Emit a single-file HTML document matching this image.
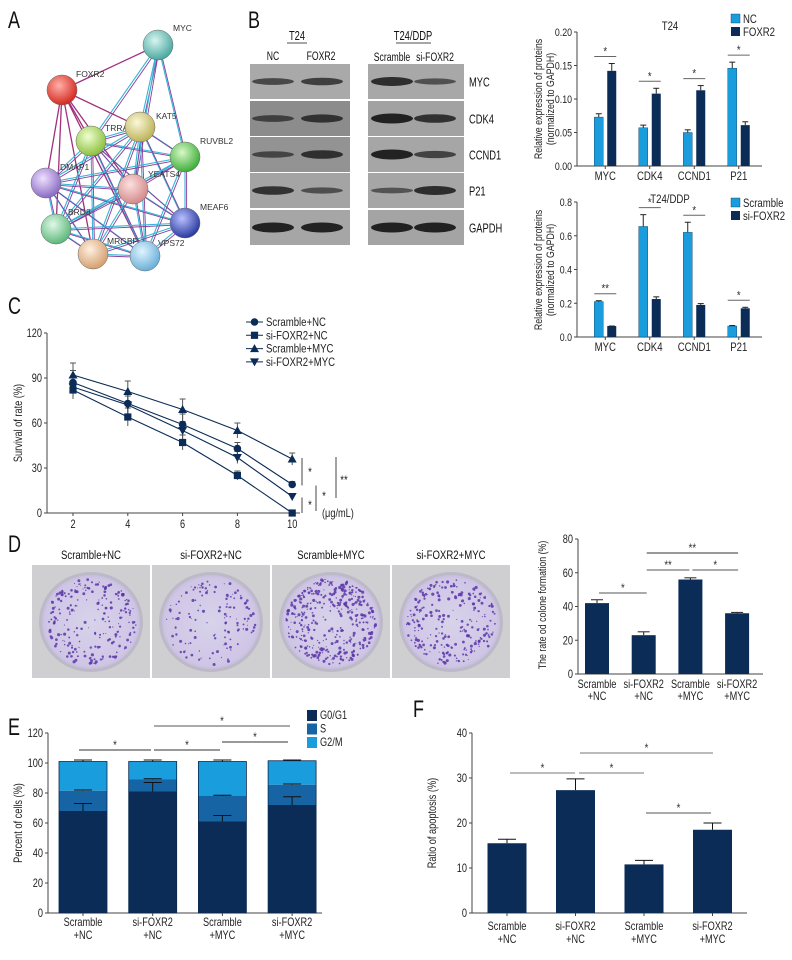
<!DOCTYPE html>
<html><head><meta charset="utf-8">
<style>
html,body{margin:0;padding:0;background:#fff;}
svg{display:block;font-family:"Liberation Sans",sans-serif;}
</style></head>
<body>
<svg id="fig" width="792" height="960" viewBox="0 0 792 960" xmlns="http://www.w3.org/2000/svg">
<defs>
<radialGradient id="gRed" cx="40%" cy="35%" r="65%"><stop offset="0" stop-color="#ffb0a8"/><stop offset="1" stop-color="#d42a20"/></radialGradient>
<radialGradient id="gTeal" cx="40%" cy="35%" r="65%"><stop offset="0" stop-color="#d8f4f0"/><stop offset="1" stop-color="#4aa9a0"/></radialGradient>
<radialGradient id="gLime" cx="40%" cy="35%" r="65%"><stop offset="0" stop-color="#f0ffd0"/><stop offset="1" stop-color="#8cc040"/></radialGradient>
<radialGradient id="gYel" cx="40%" cy="35%" r="65%"><stop offset="0" stop-color="#fbf8d8"/><stop offset="1" stop-color="#bdb35a"/></radialGradient>
<radialGradient id="gGreen" cx="40%" cy="35%" r="65%"><stop offset="0" stop-color="#d8f8c8"/><stop offset="1" stop-color="#3fae3a"/></radialGradient>
<radialGradient id="gPur" cx="40%" cy="35%" r="65%"><stop offset="0" stop-color="#efe0ff"/><stop offset="1" stop-color="#8a6cc4"/></radialGradient>
<radialGradient id="gPink" cx="40%" cy="35%" r="65%"><stop offset="0" stop-color="#fde0e0"/><stop offset="1" stop-color="#d48a8a"/></radialGradient>
<radialGradient id="gMint" cx="40%" cy="35%" r="65%"><stop offset="0" stop-color="#e0f8e8"/><stop offset="1" stop-color="#5eb87a"/></radialGradient>
<radialGradient id="gBlue" cx="40%" cy="35%" r="65%"><stop offset="0" stop-color="#b8c0ff"/><stop offset="1" stop-color="#2c3aa0"/></radialGradient>
<radialGradient id="gPeach" cx="40%" cy="35%" r="65%"><stop offset="0" stop-color="#fff0e0"/><stop offset="1" stop-color="#d4a070"/></radialGradient>
<radialGradient id="gSky" cx="40%" cy="35%" r="65%"><stop offset="0" stop-color="#e0f4ff"/><stop offset="1" stop-color="#6ab0d8"/></radialGradient>
<radialGradient id="gPlate" cx="50%" cy="50%" r="55%"><stop offset="0" stop-color="#d8d2ea"/><stop offset="0.85" stop-color="#cfc6e6"/><stop offset="1" stop-color="#b8b2cc"/></radialGradient>
</defs>
</svg>
<script>
// ---------- data ----------
const bCats = ["MYC","CDK4","CCND1","P21"];
const b1NC = [0.073,0.057,0.050,0.146];
const b1NCerr = [0.005,0.004,0.004,0.009];
const b1FOX = [0.142,0.108,0.113,0.061];
const b1FOXerr = [0.011,0.008,0.007,0.005];
const b1Ticks = [0,0.05,0.10,0.15,0.20];
const b1TickLabels = ["0.00","0.05","0.10","0.15","0.20"];
const b2Scr = [0.21,0.655,0.62,0.065];
const b2ScrErr = [0.005,0.07,0.06,0.003];
const b2Si = [0.065,0.225,0.19,0.17];
const b2SiErr = [0.0,0.013,0.008,0.006];
const b2Ticks = [0,0.2,0.4,0.6,0.8];
const b2TickLabels = ["0.0","0.2","0.4","0.6","0.8"];
const b2Sig = ["**","*","*","*"];

const cDoses = [2,4,6,8,10];
const cScrNC = [87,73,59,43,19];
const cScrNCerr = [8,7,7,4,2];
const cSiNC = [82,64,47,25,0];
const cSiNCerr = [6,6,5,3,1];
const cScrMYC = [92,81,69,55,36];
const cScrMYCerr = [8,7,7,5,4];
const cSiMYC = [84,72,55,37,11];
const cSiMYCerr = [7,6,6,4,2];
const cTicks = [0,30,60,90,120];

const grpCats = [["Scramble","+NC"],["si-FOXR2","+NC"],["Scramble","+MYC"],["si-FOXR2","+MYC"]];
const dColony = [42,23,56,36];
const dColonyErr = [2,2,1,0.5];
const dTicks = [0,20,40,60,80];

const eG0 = [68,81,61,72];
const eG0err = [5,6,4,5.5];
const eS = [13.5,8,17,13.5];
const eSerr = [0.5,0.5,0.5,0.5];
const eG2 = [19.5,12,23,16];
const eG2err = [1,1,1,0.5];
const eTicks = [0,20,40,60,80,100,120];

const fApop = [15.5,27.3,10.8,18.5];
const fApopErr = [0.9,2.5,0.9,1.5];
const fTicks = [0,10,20,30,40];

const LIGHT="#1a9ddc", DARK="#0b2c56", MID="#1764a4";
const SX=0.8;
const svg=document.getElementById('fig');
const NS="http://www.w3.org/2000/svg";
function mk(tag,attrs,name,parent,inter){
  const el=document.createElementNS(NS,tag);
  for(const k in attrs) el.setAttribute(k,attrs[k]);
  
  
  (parent||svg).appendChild(el);
  return el;
}
function txt(x,y,s,size,name,opts){
  opts=opts||{};
  const sx=opts.sx===undefined?SX:opts.sx;
  const tr='translate('+x+','+y+')'+(opts.rot?' rotate('+opts.rot+')':'')+' scale('+sx+',1)';
  const el=mk('text',Object.assign({x:0,y:0,transform:tr,'font-size':size,fill:opts.fill||'#222','text-anchor':opts.anchor||'middle'},opts.extra||{}),name,opts.parent);
  el.textContent=s;
  return el;
}
function line(x1,y1,x2,y2,name,stroke,w){return mk('line',{x1:x1,y1:y1,x2:x2,y2:y2,stroke:stroke||'#333','stroke-width':w||1},name);}
function g(name){return mk('g',{},name);}

// panel letters
[["A",8,28],["B",248,28],["C",8,314],["D",8,552],["E",8,735],["F",413,717]].forEach(p=>{
  txt(p[1],p[2],p[0],24,'panel-label-'+p[0].toLowerCase(),{anchor:'start',fill:'#111',sx:0.75});
});

// ---------- Panel A: network ----------
const nodes={MYC:[158,45,'gTeal'],FOXR2:[62,90,'gRed'],TRRAP:[91,141,'gLime'],KAT5:[140,127,'gYel'],RUVBL2:[185,157,'gGreen'],DMAP1:[46,183,'gPur'],YEATS4:[133,189,'gPink'],BRD8:[56,229,'gMint'],MEAF6:[185,223,'gBlue'],MRGBP:[93,254,'gPeach'],VPS72:[145,256,'gSky']};
const edges=[["MYC","FOXR2","m"],["MYC","TRRAP","c"],["MYC","KAT5","c"],["MYC","RUVBL2","c"],["MYC","YEATS4","c"],["FOXR2","TRRAP","m"],["FOXR2","KAT5","m"],["FOXR2","DMAP1","m"],["FOXR2","YEATS4","m"],["FOXR2","BRD8","m"],["FOXR2","MRGBP","m"],["FOXR2","VPS72","m"],["TRRAP","KAT5","c"],["TRRAP","RUVBL2","c"],["TRRAP","DMAP1","c"],["TRRAP","YEATS4","c"],["TRRAP","BRD8","c"],["TRRAP","MEAF6","c"],["TRRAP","MRGBP","c"],["TRRAP","VPS72","c"],["KAT5","RUVBL2","c"],["KAT5","DMAP1","c"],["KAT5","YEATS4","c"],["KAT5","BRD8","c"],["KAT5","MEAF6","c"],["KAT5","MRGBP","c"],["KAT5","VPS72","c"],["RUVBL2","DMAP1","c"],["RUVBL2","YEATS4","c"],["RUVBL2","MEAF6","c"],["RUVBL2","BRD8","c"],["RUVBL2","VPS72","c"],["DMAP1","YEATS4","c"],["DMAP1","BRD8","c"],["DMAP1","MEAF6","c"],["DMAP1","MRGBP","c"],["DMAP1","VPS72","c"],["YEATS4","BRD8","c"],["YEATS4","MEAF6","c"],["YEATS4","MRGBP","c"],["YEATS4","VPS72","c"],["BRD8","MEAF6","c"],["BRD8","MRGBP","c"],["BRD8","VPS72","c"],["MEAF6","MRGBP","c"],["MEAF6","VPS72","c"],["MRGBP","VPS72","c"]];
const gA=g('network-diagram');
edges.forEach((e,i)=>{
  const a=nodes[e[0]],b=nodes[e[1]];
  if(e[2]==='m'){
    mk('line',{x1:a[0],y1:a[1],x2:b[0],y2:b[1],stroke:'#a0307e','stroke-width':1.3},'edge-'+e[0].toLowerCase()+'-'+e[1].toLowerCase(),gA);
  } else {
    mk('line',{x1:a[0],y1:a[1],x2:b[0],y2:b[1],stroke:'#35b5d8','stroke-width':1.1},'edge-'+e[0].toLowerCase()+'-'+e[1].toLowerCase(),gA);
    mk('line',{x1:a[0]+1.6,y1:a[1]+1.6,x2:b[0]+1.6,y2:b[1]+1.6,stroke:'#8a3c9a','stroke-width':0.9},'edge2-'+e[0].toLowerCase()+'-'+e[1].toLowerCase(),gA);
  }
});
const labelPos={MYC:[173,31,'start'],FOXR2:[76,77,'start'],TRRAP:[105,131,'start'],KAT5:[156,119,'start'],RUVBL2:[200,144,'start'],DMAP1:[60,170,'start'],YEATS4:[148,177,'start'],BRD8:[68,215,'start'],MEAF6:[200,210,'start'],MRGBP:[107,244,'start'],VPS72:[158,246,'start']};
for(const k in nodes){
  const n=nodes[k];
  mk('circle',{cx:n[0],cy:n[1],r:15,fill:'url(#'+n[2]+')',stroke:'#666','stroke-width':0.5},'node-'+k.toLowerCase(),gA,true);
  const lp=labelPos[k];
  txt(lp[0],lp[1],k,8.5,'node-label-'+k.toLowerCase(),{anchor:lp[2],fill:'#333',parent:gA,sx:1});
}

// ---------- Panel B: western blots ----------
const gB=g('western-blot');
const rows=[[64,99],[101,136],[137,172],[173,208],[210,245]];
const rowNames=["MYC","CDK4","CCND1","P21","GAPDH"];
const leftBg=["#a9a9a9","#8c8c8c","#939393","#a4a4a4","#a6a6a6"];
const rightBg=["#a8a8a8","#a2a2a2","#a6a6a6","#a6a6a6","#a4a4a4"];
const leftBands=[[0.55,0.65],[0.55,0.75],[0.5,0.8],[0.8,0.45],[1,1]];
const rightBands=[[0.85,0.45],[1,0.8],[1,0.6],[0.4,0.85],[1,1]];
rows.forEach((r,i)=>{
  mk('rect',{x:250,y:r[0],width:100,height:r[1]-r[0],fill:leftBg[i]},'blot-left-'+rowNames[i].toLowerCase(),gB);
  mk('rect',{x:368,y:r[0],width:96,height:r[1]-r[0],fill:rightBg[i]},'blot-right-'+rowNames[i].toLowerCase(),gB);
  const cy=(r[0]+r[1])/2;
  [273,322].forEach((cx,j)=>{const s=leftBands[i][j];
    mk('ellipse',{cx:cx,cy:cy,rx:21,ry:1.5+3.5*s,fill:'#1a1a1a','fill-opacity':0.35+0.6*s},'band-left-'+rowNames[i].toLowerCase()+'-'+j,gB);});
  [392,435].forEach((cx,j)=>{const s=rightBands[i][j];
    mk('ellipse',{cx:cx,cy:cy,rx:21,ry:1.5+3.5*s,fill:'#1a1a1a','fill-opacity':0.35+0.6*s},'band-right-'+rowNames[i].toLowerCase()+'-'+j,gB);});
  txt(469,cy+5,rowNames[i],13,'blot-row-label-'+rowNames[i].toLowerCase(),{anchor:'start',fill:'#111',sx:0.72});
});
txt(297,40,"T24",13,'blot-title-t24',{fill:'#111',sx:0.72});
txt(413,40,"T24/DDP",13,'blot-title-t24ddp',{fill:'#111',sx:0.72});
line(287,43,307,43,'underline-t24','#111',0.8);
line(396,43,431,43,'underline-t24ddp','#111',0.8);
txt(273,60,"NC",12,'lane-nc',{fill:'#111',sx:0.72});
txt(321,60,"FOXR2",12,'lane-foxr2',{fill:'#111',sx:0.72});
txt(392,61,"Scramble",12,'lane-scramble',{fill:'#111',sx:0.72});
txt(435,61,"si-FOXR2",12,'lane-si-foxr2',{fill:'#111',sx:0.72});

// ---------- generic helpers ----------
function yAxis(x,yScale,ticks,labels,name,size){
  g(name);
  line(x,yScale(ticks[ticks.length-1]),x,yScale(ticks[0]),name+'-line','#444',1);
  ticks.forEach((t,i)=>{
    const y=yScale(t);
    line(x-3,y,x,y,name+'-tick','#444',1);
    txt(x-5,y+4,labels?labels[i]:String(t),size||11,name+'-tick-label',{anchor:'end'});
  });
}
function errBar(x,yTop,yErr,hw,name,col){
  line(x,yTop,x,yErr,name,col||'#222',1);
  line(x-hw,yErr,x+hw,yErr,name+'-cap',col||'#222',1);
}
function sig(x1,x2,y,s,name,col){
  line(x1,y,x2,y,name+'-line',col||'#444',1);
  txt((x1+x2)/2,y-1,s,12,name+'-star',{fill:'#333'});
}

// ---------- Panel B chart 1 ----------
(function(){
  const y=v=>166-v/0.20*134;
  const cx=i=>583+(i+0.5)*44.5;
  yAxis(577,y,b1Ticks,b1TickLabels,'b1-y-axis',11);
  line(577,166,762,166,'b1-x-axis','#444',1);
  bCats.forEach((c,i)=>{
    const x=cx(i);
    mk('rect',{x:x-11,y:y(b1NC[i]),width:9,height:166-y(b1NC[i]),fill:LIGHT,stroke:'#0a3a66','stroke-width':0.4},'b1-bar-nc-'+c.toLowerCase());
    errBar(x-6.5,y(b1NC[i]),y(b1NC[i]+b1NCerr[i]),3,'b1-err-nc');
    mk('rect',{x:x+2,y:y(b1FOX[i]),width:9,height:166-y(b1FOX[i]),fill:DARK},'b1-bar-foxr2-'+c.toLowerCase());
    errBar(x+6.5,y(b1FOX[i]),y(b1FOX[i]+b1FOXerr[i]),3,'b1-err-foxr2');
    line(x,166,x,169,'b1-x-tick','#444',1);
    txt(x,180,c,12,'b1-x-label-'+c.toLowerCase());
    const top=Math.max(b1NC[i]+b1NCerr[i],b1FOX[i]+b1FOXerr[i]);
    sig(x-11,x+11,y(top)-7,"*",'b1-sig-'+c.toLowerCase(),'#666');
  });
  txt(670,30,"T24",12,'b1-title');
  mk('rect',{x:731,y:14,width:9,height:9,fill:LIGHT,stroke:'#0a3a66','stroke-width':0.4},'b1-legend-swatch-nc');
  txt(743,23,"NC",12,'b1-legend-nc',{anchor:'start'});
  mk('rect',{x:731,y:27,width:9,height:9,fill:DARK},'b1-legend-swatch-foxr2');
  txt(743,36,"FOXR2",12,'b1-legend-foxr2',{anchor:'start'});
  txt(542,99,"Relative expression of proteins",11,'b1-y-title',{rot:-90});
  txt(554,99,"(normalized to GAPDH)",11,'b1-y-title-2',{rot:-90});
})();

// ---------- Panel B chart 2 ----------
(function(){
  const y=v=>337-v/0.8*135;
  const cx=i=>583+(i+0.5)*44.5;
  yAxis(577,y,b2Ticks,b2TickLabels,'b2-y-axis',11);
  line(577,337,762,337,'b2-x-axis','#444',1);
  bCats.forEach((c,i)=>{
    const x=cx(i);
    mk('rect',{x:x-11,y:y(b2Scr[i]),width:9,height:337-y(b2Scr[i]),fill:LIGHT,stroke:'#0a3a66','stroke-width':0.4},'b2-bar-scramble-'+c.toLowerCase());
    errBar(x-6.5,y(b2Scr[i]),y(b2Scr[i]+b2ScrErr[i]),3,'b2-err-scramble');
    mk('rect',{x:x+2,y:y(b2Si[i]),width:9,height:337-y(b2Si[i]),fill:DARK},'b2-bar-si-foxr2-'+c.toLowerCase());
    errBar(x+6.5,y(b2Si[i]),y(b2Si[i]+b2SiErr[i]),3,'b2-err-si-foxr2');
    line(x,337,x,340,'b2-x-tick','#444',1);
    txt(x,351,c,12,'b2-x-label-'+c.toLowerCase());
    const top=Math.max(b2Scr[i]+b2ScrErr[i],b2Si[i]+b2SiErr[i]);
    sig(x-11,x+11,y(top)-7,b2Sig[i],'b2-sig-'+c.toLowerCase(),'#666');
  });
  txt(670,203,"T24/DDP",12,'b2-title');
  mk('rect',{x:731,y:198,width:9,height:9,fill:LIGHT,stroke:'#0a3a66','stroke-width':0.4},'b2-legend-swatch-scramble');
  txt(743,207,"Scramble",12,'b2-legend-scramble',{anchor:'start'});
  mk('rect',{x:731,y:211,width:9,height:9,fill:DARK},'b2-legend-swatch-si-foxr2');
  txt(743,220,"si-FOXR2",12,'b2-legend-si-foxr2',{anchor:'start'});
  txt(542,270,"Relative expression of proteins",11,'b2-y-title',{rot:-90});
  txt(554,270,"(normalized to GAPDH)",11,'b2-y-title-2',{rot:-90});
})();

// ---------- Panel C ----------
(function(){
  const y=v=>513-v/120*180;
  const x=d=>73+(d-2)*27.4;
  yAxis(47,y,cTicks,null,'c-y-axis',11.5);
  line(47,513,300,513,'c-x-axis','#444',1);
  cDoses.forEach(d=>{line(x(d),513,x(d),516,'c-x-tick','#444',1);txt(x(d),528,String(d),11.5,'c-x-label-'+d);});
  const series=[[cScrNC,cScrNCerr,'circle','scramble-nc'],[cSiNC,cSiNCerr,'square','si-foxr2-nc'],[cScrMYC,cScrMYCerr,'tri','scramble-myc'],[cSiMYC,cSiMYCerr,'tridown','si-foxr2-myc']];
  function marker(type,px,py,name){
    if(type==='circle') return mk('circle',{cx:px,cy:py,r:3.8,fill:DARK},name);
    if(type==='square') return mk('rect',{x:px-3.6,y:py-3.6,width:7.2,height:7.2,fill:DARK},name);
    if(type==='tri') return mk('polygon',{points:`${px},${py-4.5} ${px+4.5},${py+3.5} ${px-4.5},${py+3.5}`,fill:DARK},name);
    return mk('polygon',{points:`${px},${py+4.5} ${px+4.5},${py-3.5} ${px-4.5},${py-3.5}`,fill:DARK},name);
  }
  series.forEach(s=>{
    cDoses.forEach((d,i)=>{errBar(x(d),y(s[0][i]-s[1][i]),y(s[0][i]+s[1][i]),3,'c-err-'+s[3],'#555');});
  });
  series.forEach(s=>{
    const pts=cDoses.map((d,i)=>x(d)+','+y(s[0][i])).join(' ');
    mk('polyline',{points:pts,fill:'none',stroke:DARK,'stroke-width':1.1},'c-line-'+s[3]);
    cDoses.forEach((d,i)=>marker(s[2],x(d),y(s[0][i]),'c-point-'+s[3]));
  });
  const leg=[["Scramble+NC",'circle'],["si-FOXR2+NC",'square'],["Scramble+MYC",'tri'],["si-FOXR2+MYC",'tridown']];
  leg.forEach((l,i)=>{
    const ly=322+i*13.3;
    line(246,ly,263,ly,'c-legend-line','#0b2c56',1);
    marker(l[1],254.5,ly,'c-legend-marker-'+i);
    txt(266,ly+4,l[0],12,'c-legend-entry-'+i,{anchor:'start'});
  });
  line(302,y(cScrMYC[4])-1,302,y(cScrNC[4])+1,'c-sig1','#444',1); txt(310,476,"*",12,'c-sig1-star');
  line(302,y(cSiMYC[4])+1,302,513,'c-sig2','#444',1); txt(310,509,"*",12,'c-sig2-star');
  line(316,y(cScrNC[4])+1,316,511,'c-sig3','#444',1); txt(324,500,"*",12,'c-sig3-star');
  line(336,y(cScrMYC[4])-2,336,498,'c-sig4','#444',1); txt(344,484,"**",12,'c-sig4-star');
  txt(322,517,"(μg/mL)",11.5,'c-x-unit',{anchor:'start'});
  txt(22,423,"Survival of rate (%)",11.5,'c-y-title',{rot:-90});
})();

// ---------- Panel D plates ----------
(function(){
  const labels=["Scramble+NC","si-FOXR2+NC","Scramble+MYC","si-FOXR2+MYC"];
  const dens=[1.0,0.6,1.7,1.1];
  let seed=7;
  const rnd=()=>{seed=(seed*16807)%2147483647;return seed/2147483647;};
  labels.forEach((l,i)=>{
    const x0=32+i*120;
    const gp=g('plate-'+i);
    mk('rect',{x:x0,y:565,width:118,height:113,fill:'#cfcfd1'},'plate-photo-bg-'+i,gp);
    const cx=x0+59,cy=622;
    mk('ellipse',{cx:cx,cy:cy,rx:52,ry:50,fill:'#bdb9c8'},'plate-rim-'+i,gp);
    mk('ellipse',{cx:cx,cy:cy,rx:49,ry:47,fill:'url(#gPlate)'},'plate-dish-'+i,gp);
    const n=Math.round(220*dens[i]);
    for(let k=0;k<n;k++){
      const a=rnd()*Math.PI*2;
      const rr=Math.pow(rnd(),0.35)*45;
      const px=cx+Math.cos(a)*rr, py=cy+Math.sin(a)*rr*0.96;
      mk('circle',{cx:px.toFixed(1),cy:py.toFixed(1),r:(0.5+rnd()*1.1).toFixed(2),fill:'#5a36a8','fill-opacity':0.85},'colony',gp);
    }
    txt(cx,559,l,12,'plate-label-'+i,{fill:'#111'});
  });
})();

// ---------- Panel D chart ----------
(function(){
  const y=v=>674-v/80*135;
  const cx=i=>597+i*46.7;
  yAxis(578,y,dTicks,null,'d-y-axis',11.5);
  line(578,674,763,674,'d-x-axis','#444',1);
  dColony.forEach((v,i)=>{
    const x=cx(i);
    mk('rect',{x:x-12,y:y(v),width:24,height:674-y(v),fill:DARK},'d-bar-'+i);
    errBar(x,y(v),y(v+dColonyErr[i]),6,'d-err-'+i);
    txt(x,688,grpCats[i][0],11.5,'d-x-label-'+i);
    txt(x,700,grpCats[i][1],11.5,'d-x-label2-'+i);
  });
  sig(cx(0)+2,cx(1)+3,593,"*",'d-sig-1-2','#555');
  sig(cx(1)+3,cx(2)-1,570,"**",'d-sig-2-3','#555');
  sig(cx(2)+2,cx(3)+1,570,"*",'d-sig-3-4','#555');
  sig(cx(1)+3,cx(3)+1,553,"**",'d-sig-2-4','#333');
  txt(546,605,"The rate od colone formation (%)",11,'d-y-title',{rot:-90});
})();

// ---------- Panel E ----------
(function(){
  const y=v=>913-v/120*180;
  const cx=i=>83+i*69.7;
  yAxis(48,y,eTicks,null,'e-y-axis',11.5);
  line(48,913,322,913,'e-x-axis','#444',1);
  eG0.forEach((v,i)=>{
    const x=cx(i);
    const s1=v, s2=v+eS[i], s3=v+eS[i]+eG2[i];
    mk('rect',{x:x-24,y:y(s3),width:48,height:y(s2)-y(s3),fill:LIGHT},'e-bar-g2m-'+i);
    mk('rect',{x:x-24,y:y(s2),width:48,height:y(s1)-y(s2),fill:MID},'e-bar-s-'+i);
    mk('rect',{x:x-24,y:y(s1),width:48,height:913-y(s1),fill:DARK},'e-bar-g0g1-'+i);
    mk('rect',{x:x-24,y:y(s3),width:48,height:913-y(s3),fill:'none',stroke:'#0a2a50','stroke-width':0.8},'e-bar-outline-'+i);
    errBar(x,y(s1),y(s1+eG0err[i]),9,'e-err-g0g1-'+i,'#111');
    errBar(x,y(s2),y(s2+eSerr[i]),9,'e-err-s-'+i,'#111');
    errBar(x,y(s3),y(s3+eG2err[i]),9,'e-err-g2m-'+i,'#111');
    line(x,913,x,916,'e-x-tick','#444',1);
    txt(x,926,grpCats[i][0],11.5,'e-x-label-'+i);
    txt(x,939,grpCats[i][1],11.5,'e-x-label2-'+i);
  });
  sig(79,151,750,"*",'e-sig-1-2','#333');
  sig(154,220,750,"*",'e-sig-2-3','#333');
  sig(222,288,742,"*",'e-sig-3-4','#333');
  sig(154,290,726,"*",'e-sig-2-4','#555');
  [["G0/G1",DARK],["S",MID],["G2/M",LIGHT]].forEach((l,i)=>{
    mk('rect',{x:307,y:710+i*13.5,width:10,height:11,fill:l[1]},'e-legend-swatch-'+i);
    txt(320,719+i*13.5,l[0],11.5,'e-legend-entry-'+i,{anchor:'start'});
  });
  txt(22,823,"Percent of cells (%)",11.5,'e-y-title',{rot:-90});
})();

// ---------- Panel F ----------
(function(){
  const y=v=>913-v/40*180;
  const cx=i=>507+i*68.5;
  yAxis(472,y,fTicks,null,'f-y-axis',11.5);
  line(472,913,747,913,'f-x-axis','#444',1);
  fApop.forEach((v,i)=>{
    const x=cx(i);
    mk('rect',{x:x-19.5,y:y(v),width:39,height:913-y(v),fill:DARK},'f-bar-'+i);
    errBar(x,y(v),y(v+fApopErr[i]),9,'f-err-'+i,'#111');
    line(x,913,x,916,'f-x-tick','#444',1);
    txt(x,930,grpCats[i][0],11.5,'f-x-label-'+i);
    txt(x,943,grpCats[i][1],11.5,'f-x-label2-'+i);
  });
  sig(510,575,773,"*",'f-sig-1-2','#777');
  sig(579,644,773,"*",'f-sig-2-3','#777');
  sig(580,713,753,"*",'f-sig-2-4','#777');
  sig(646,711,813,"*",'f-sig-3-4','#555');
  txt(436,823,"Ratio of apoptosis (%)",11.5,'f-y-title',{rot:-90});
})();
</script>
</body></html>
